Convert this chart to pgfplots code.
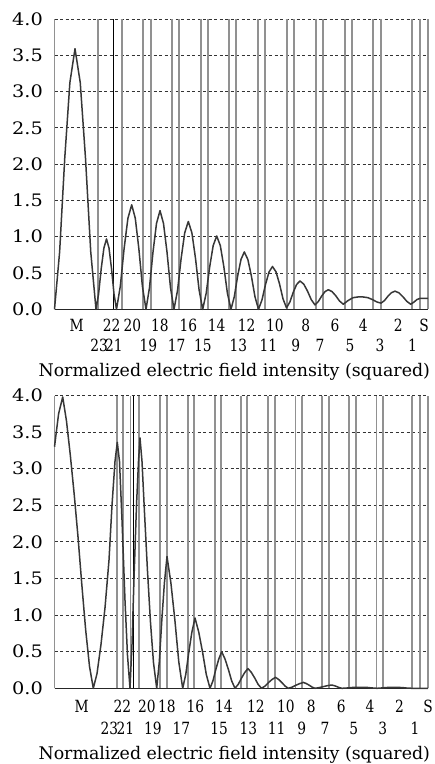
\documentclass[border=0pt]{standalone}
\usepackage{fontspec}
\setmainfont{DejaVu Serif}
\usepackage{pgfplots}
\pgfplotsset{compat=1.18}
\definecolor{vline}{RGB}{145,145,145}
\definecolor{curve}{RGB}{55,55,55}
\newcommand\sx[1]{\scalebox{0.82}[1]{#1}}
\newcommand\sy[1]{\scalebox{1.12}[1]{#1}}
\pgfplotsset{
  fieldaxis/.style={
    scale only axis, width=373.5pt,
    xmin=54.5, xmax=428, ymin=0, ymax=4,
    clip=false,
    axis x line*=bottom, axis y line*=left,
    x axis line style={black!85, line width=1.2pt, -},
    y axis line style={vline, line width=1.8pt, -},
    ytick={0,0.5,1,1.5,2,2.5,3,3.5,4},
    yticklabels={\sy{0.0},\sy{0.5},\sy{1.0},\sy{1.5},\sy{2.0},\sy{2.5},\sy{3.0},\sy{3.5},\sy{4.0}},
    ymajorgrids,
    grid style={black!80, line width=0.9pt, dash pattern=on 3pt off 2.5pt},
    major tick length=0pt,
    xticklabel style={font=\fontsize{16.8}{19}\selectfont},
    yticklabel style={font=\fontsize{17.2}{20}\selectfont, anchor=east, inner sep=0pt, xshift=-11.5pt},
    label style={font=\fontsize{17.4}{21}\selectfont},
    xlabel={Normalized electric field intensity (squared)},
  }
}
\begin{document}
\begin{tikzpicture}
% ---------------- top panel ----------------
\begin{axis}[fieldaxis,
  at={(54.5pt,454.7pt)}, anchor=south west, height=290.3pt,
  xtick={76.7,111.7,132.3,160,188.3,216.7,246.7,275,305.8,335,363.3,398.3,424},
  xticklabels={\sx{M},\sx{22},\sx{20},\sx{18},\sx{16},\sx{14},\sx{12},\sx{10},\sx{8},\sx{6},\sx{4},\sx{2},\sx{S}},
  xticklabel style={anchor=base, inner sep=0pt, yshift=-22.5pt},
  extra x ticks={99.2,114,148.3,176.7,203,238.3,268.3,295.8,320,350,380,412.5},
  extra x tick labels={\sx{23},\sx{21},\sx{19},\sx{17},\sx{15},\sx{13},\sx{11},\sx{9},\sx{7},\sx{5},\sx{3},\sx{1}},
  extra x tick style={xticklabel style={yshift=-20pt}},
  xlabel style={at={(axis description cs:0.5,0)}, anchor=base, inner sep=0pt, yshift=-67.3pt, xshift=-7pt},
]
\addplot[ycomb, vline, line width=1.8pt, mark=none] coordinates {
 (97.7,4) (121.7,4) (143.3,4) (150.7,4) (171.7,4) (179.3,4) (201,4) (208.3,4)
 (229.3,4) (235.7,4) (258.3,4) (265,4) (287.3,4) (294.3,4) (316,4) (323.3,4)
 (344.7,4) (351.7,4) (373.3,4) (381,4) (412,4) (420,4) (428,4)};
\addplot[ycomb, black, line width=1.4pt, mark=none] coordinates {(113.3,4)};
\addplot[curve, line width=1.5pt, line join=round, mark=none] coordinates {
 (54.5,0) (59.625,0.79) (64.75,2.082) (69.875,3.123) (75,3.59) (80.25,3.123) (85.5,2.082) (90.75,0.79) (96,0)
 (98.6,0.213) (101.25,0.563) (103.9,0.844) (106.5,0.97) (109,0.844) (111.5,0.563) (114,0.213) (116.5,0)
 (120.3,0.317) (124.1,0.835) (127.9,1.253) (131.7,1.44) (135.3,1.253) (138.85,0.835) (142.4,0.317) (146,0)
 (149.5,0.299) (153,0.789) (156.5,1.183) (160,1.36) (163.5,1.183) (167,0.789) (170.5,0.299) (174,0)
 (177.6,0.266) (181.15,0.702) (184.7,1.053) (188.3,1.21) (191.9,1.053) (195.5,0.702) (199.1,0.266) (202.7,0)
 (206.2,0.222) (209.7,0.586) (213.2,0.879) (216.7,1.01) (220.3,0.879) (223.85,0.586) (227.4,0.222) (231,0)
 (234.3,0.174) (237.65,0.458) (241,0.687) (244.3,0.79) (247.85,0.687) (251.4,0.458) (254.95,0.174) (258.5,0)
 (262,0.13) (265.5,0.342) (269,0.513) (272.5,0.59) (276,0.516) (279.5,0.351) (283,0.145) (286.5,0.02)
 (289.9,0.101) (293.25,0.235) (296.6,0.342) (300,0.39) (303.75,0.347) (307.5,0.251) (311.25,0.133) (315,0.06)
 (318.3,0.106) (321.65,0.182) (325,0.243) (328.3,0.27) (332.05,0.244) (335.8,0.186) (339.55,0.114) (343.3,0.07)
 (348,0.12) (353,0.16) (358,0.17) (363,0.17) (368,0.16) (373,0.13) (377,0.10) (381,0.085)
 (384.5,0.121) (388,0.181) (391.5,0.229) (395,0.25) (398.9,0.227) (402.85,0.174) (406.8,0.11) (410.7,0.07)
 (414,0.1) (417,0.135) (420,0.15) (424,0.15) (428,0.15)};
\end{axis}
% ---------------- bottom panel ----------------
\begin{axis}[fieldaxis,
  at={(54.5pt,75.7pt)}, anchor=south west, height=292.8pt,
  xtick={81.7,122.5,147,167,195.3,224,255.8,285.8,311.3,341.3,370,399.5,428},
  xticklabels={\sx{M},\sx{22},\sx{20},\sx{18},\sx{16},\sx{14},\sx{12},\sx{10},\sx{8},\sx{6},\sx{4},\sx{2},\sx{S}},
  xticklabel style={anchor=base, inner sep=0pt, yshift=-24.5pt},
  extra x ticks={109.5,125.5,153,181.3,219.2,248.3,276.7,301.7,325,353.8,382.8,415},
  extra x tick labels={\sx{23},\sx{21},\sx{19},\sx{17},\sx{15},\sx{13},\sx{11},\sx{9},\sx{7},\sx{5},\sx{3},\sx{1}},
  extra x tick style={xticklabel style={yshift=-21.6pt}},
  xlabel style={at={(axis description cs:0.5,0)}, anchor=base, inner sep=0pt, yshift=-71pt, xshift=-7pt},
]
\addplot[ycomb, vline, line width=1.8pt, mark=none] coordinates {
 (117.3,4) (123.3,4) (130.5,4) (139.3,4) (160,4) (166.7,4) (187.7,4) (194.3,4)
 (215,4) (221,4) (241,4) (247,4) (268,4) (275,4) (295.5,4) (301.7,4)
 (322.3,4) (329,4) (349,4) (355.7,4) (376.5,4) (383,4) (412,4) (420,4) (428,4)};
\addplot[ycomb, black, line width=1.4pt, mark=none] coordinates {(133.3,4)};
\addplot[curve, line width=1.5pt, line join=round, mark=none] coordinates {
 (54.5,3.3) (58.6,3.75) (62.7,3.98) (66.5,3.65) (70.35,3.18) (74.2,2.65) (78,2.07) (81.8,1.42) (85.65,0.8) (89.5,0.3) (93.3,0)
 (97,0.2) (101,0.6) (105,1.1) (109,1.75) (112,2.5) (115,3.1) (117.3,3.36) (119.5,3.1) (122,2.3) (125,1.2) (127.5,0.45) (130,0)
 (132,0.6) (134,1.5) (136.5,2.5) (138.5,3.1) (140,3.42) (142,3.1) (144.5,2.4) (147.5,1.6) (150.5,0.9) (153.5,0.35) (156.7,0)
 (159.3,0.36) (161.85,0.936) (164.4,1.44) (167,1.8) (170.9,1.44) (174.85,0.936) (178.8,0.36) (182.7,0)
 (185.8,0.192) (188.85,0.499) (191.9,0.768) (195,0.96) (198.75,0.768) (202.5,0.499) (206.25,0.192) (210,0)
 (212.9,0.1) (215.85,0.26) (218.8,0.4) (221.7,0.5) (225,0.4) (228.35,0.26) (231.7,0.1) (235,0)
 (238.25,0.054) (241.5,0.14) (244.75,0.216) (248,0.27) (251.4,0.216) (254.75,0.14) (258.1,0.054) (261.5,0)
 (265,0.03) (268.5,0.078) (272,0.12) (275.5,0.15) (278.7,0.12) (281.9,0.078) (285.1,0.03) (288.3,0)
 (292.1,0.016) (295.9,0.042) (299.7,0.064) (303.5,0.08) (306.4,0.064) (309.25,0.042) (312.1,0.016) (315,0)
 (319.2,0.009) (323.4,0.023) (327.5,0.036) (331.7,0.045) (334.3,0.036) (336.9,0.023) (339.4,0.009) (342,0)
 (348,0.005) (353,0.012) (360,0.014) (367,0.012) (372,0.005) (377,0) (383,0.006) (388,0.012) (395,0.014) (402,0.01) (407,0.003) (412,0) (428,0)};
\end{axis}
\pgfresetboundingbox
\path[use as bounding box] (0,0) rectangle (435pt,764pt);
\end{tikzpicture}
\end{document}
